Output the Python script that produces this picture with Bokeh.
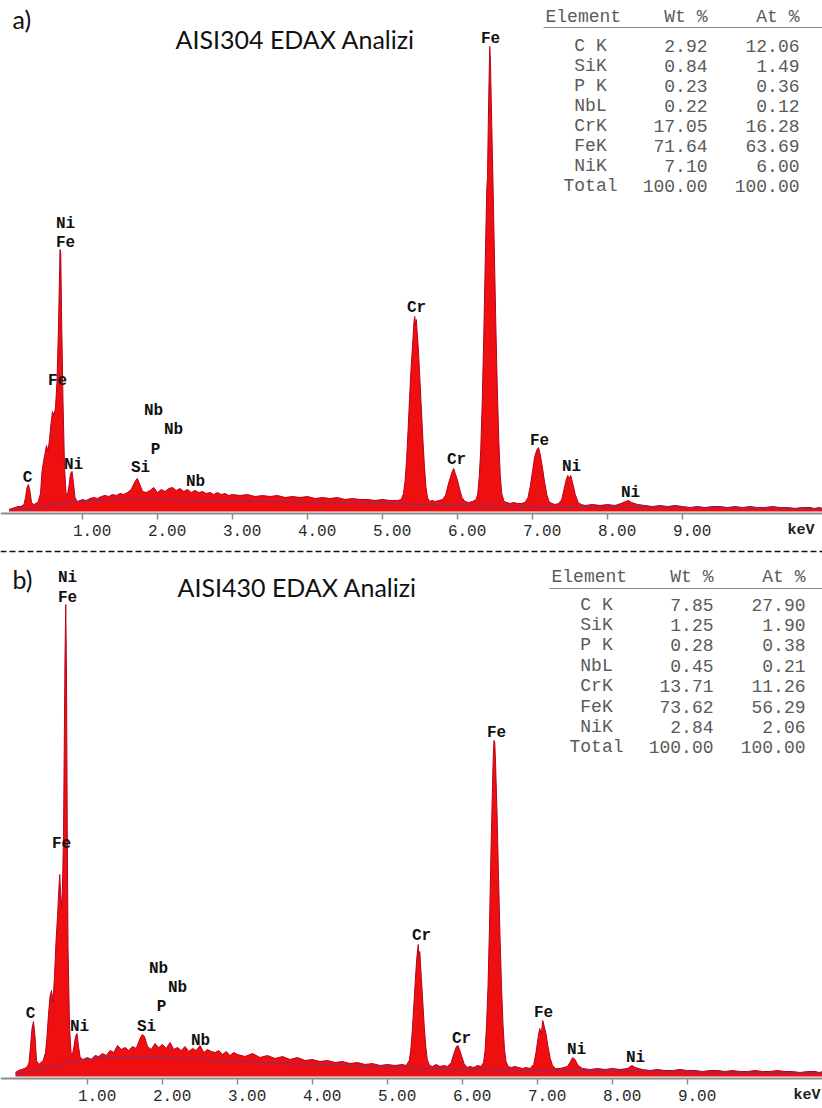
from bokeh.plotting import figure
from bokeh.layouts import column
from bokeh.models import Range1d, FixedTicker, Span
from bokeh.core.properties import value
from bokeh.embed import file_html
from bokeh.resources import INLINE

# ---------------- data ----------------
TICK_KEV = [1, 2, 3, 4, 5, 6, 7, 8, 9]
TICK_LABELS = ["1.00", "2.00", "3.00", "4.00", "5.00", "6.00", "7.00", "8.00", "9.00"]
UNIT_LABEL = "keV"

TABLE_HEADER = ["Element", "Wt %", "At %"]
TABLE_ELEMENTS = ["C K", "SiK", "P K", "NbL", "CrK", "FeK", "NiK", "Total"]
A_WT = [2.92, 0.84, 0.23, 0.22, 17.05, 71.64, 7.10, 100.00]
A_AT = [12.06, 1.49, 0.36, 0.12, 16.28, 63.69, 6.00, 100.00]
B_WT = [7.85, 1.25, 0.28, 0.45, 13.71, 73.62, 2.84, 100.00]
B_AT = [27.90, 1.90, 0.38, 0.21, 11.26, 56.29, 2.06, 100.00]

A_TAG, B_TAG = "a)", "b)"
A_TITLE, B_TITLE = "AISI304 EDAX Analizi", "AISI430 EDAX Analizi"

PEAK_NAMES = ["Ni", "Fe", "Fe", "C", "Ni", "Si", "Nb", "Nb", "P", "Nb",
              "Cr", "Cr", "Fe", "Fe", "Ni", "Ni"]

# spectrum a) (keV, counts)
A_KEV = [0.02, 0.06, 0.10, 0.14, 0.18, 0.22, 0.24, 0.26, 0.28, 0.30,
         0.32, 0.35, 0.38, 0.41, 0.44, 0.46, 0.48, 0.50, 0.52, 0.54,
         0.56, 0.58, 0.60, 0.62, 0.64, 0.66, 0.68, 0.70, 0.71, 0.72,
         0.74, 0.76, 0.78, 0.80, 0.82, 0.84, 0.86, 0.88, 0.90, 0.93, 0.97,
         1.00, 1.05, 1.10, 1.15, 1.20, 1.25, 1.30, 1.35, 1.40, 1.45, 1.50, 1.55, 1.60, 1.65,
         1.70, 1.73, 1.76,
         1.80, 1.85, 1.90, 1.95, 2.00, 2.05, 2.10, 2.15, 2.20, 2.25, 2.30, 2.35,
         2.40, 2.45, 2.50, 2.55, 2.60, 2.65, 2.70, 2.75, 2.80, 2.85, 2.90, 2.95,
         3.00, 3.10, 3.20, 3.30, 3.40, 3.50, 3.60, 3.70, 3.80, 3.90, 4.00, 4.10,
         4.20, 4.30, 4.40, 4.50, 4.60, 4.70, 4.80, 4.90, 5.00, 5.10, 5.20, 5.25,
         5.28, 5.30, 5.32, 5.34, 5.36, 5.38, 5.40, 5.42, 5.43, 5.44,
         5.45, 5.46, 5.48, 5.50, 5.52, 5.54, 5.56, 5.58, 5.60, 5.63,
         5.66, 5.70, 5.75, 5.80, 5.84, 5.87, 5.90, 5.93, 5.95, 5.97,
         6.00, 6.03, 6.06, 6.10, 6.15, 6.20, 6.25, 6.27, 6.29, 6.31,
         6.33, 6.35, 6.37, 6.39, 6.40, 6.41, 6.42, 6.43, 6.44, 6.45,
         6.47, 6.49, 6.51, 6.53, 6.55, 6.57, 6.59, 6.62, 6.66, 6.70,
         6.75, 6.80, 6.85, 6.90, 6.94, 6.97, 7.00, 7.03, 7.06, 7.08,
         7.10, 7.13, 7.16, 7.19, 7.22, 7.26, 7.30, 7.35, 7.39, 7.42,
         7.45, 7.47, 7.49, 7.51, 7.54, 7.57, 7.61, 7.65, 7.70, 7.80,
         7.90, 8.00, 8.10, 8.18, 8.24, 8.28, 8.32, 8.40, 8.50, 8.60,
         8.70, 8.80, 8.90, 9.00, 9.10, 9.20, 9.30, 9.40, 9.50, 9.60,
         9.70, 9.80, 9.90, 10.00, 10.10, 10.20, 10.30, 10.40, 10.50, 10.60,
         10.70, 10.76, 10.82, 10.87]
A_COUNTS = [2, 3, 4, 5, 5, 7, 14, 24, 27, 20,
            9, 7, 8, 10, 18, 40, 50, 58, 66, 60,
            72, 88, 100, 96, 104, 130, 185, 262, 258, 200,
            110, 45, 18, 17, 26, 38, 40, 28, 14, 10, 11,
            12, 11, 13, 14, 13, 15, 16, 15, 17, 16, 18, 17, 19, 22,
            30, 33, 28,
            20, 19, 21, 24, 19, 22, 20, 23, 24, 21, 23, 20,
            22, 19, 21, 19, 20, 18, 19, 17, 19, 17, 18, 16,
            17, 16, 17, 15, 16, 15, 16, 14, 15, 14, 15, 13,
            14, 13, 14, 12, 13, 12, 12, 11, 12, 11, 11, 12,
            18, 30, 50, 80, 112, 142, 165, 190, 195, 186,
            192, 182, 160, 130, 100, 70, 44, 24, 14, 10,
            11, 10, 11, 12, 16, 25, 33, 40, 43, 38,
            31, 22, 14, 10, 9, 10, 12, 18, 35, 62,
            110, 175, 250, 322, 335, 385, 430, 465, 448, 410,
            340, 265, 190, 125, 72, 36, 18, 10, 9, 8,
            9, 8, 8, 9, 14, 25, 40, 55, 62, 64,
            58, 45, 30, 17, 10, 8, 7, 8, 12, 22,
            32, 36, 33, 36, 27, 17, 9, 7, 6, 7,
            6, 7, 6, 8, 10, 11, 9, 7, 6, 5,
            6, 5, 6, 5, 4, 5, 4, 5, 5, 4,
            5, 4, 5, 4, 4, 5, 4, 4, 3, 4,
            4, 3, 4, 3]
A_BG_KEV = [0.02, 0.3, 0.6, 0.9, 1.2, 1.6, 2.0, 2.5, 3.0, 4.0, 5.0, 6.0, 7.0, 8.0, 9.0, 10.0, 10.87]
A_BG_COUNTS = [1, 3, 7, 10, 11, 12, 12, 11, 11, 9, 8, 6, 5, 4.5, 4, 3.5, 3]

# spectrum b) (keV, counts)
B_KEV = [0.04, 0.08, 0.12, 0.16, 0.20, 0.22, 0.24, 0.26, 0.28, 0.30,
         0.32, 0.35, 0.38, 0.41, 0.44, 0.46, 0.48, 0.50, 0.52, 0.54,
         0.56, 0.58, 0.60, 0.62, 0.63, 0.64, 0.66, 0.68, 0.70, 0.71,
         0.72, 0.73, 0.74, 0.76, 0.78, 0.80, 0.82, 0.84, 0.86, 0.88,
         0.90, 0.93, 0.97,
         1.00, 1.05, 1.10, 1.15, 1.20, 1.25, 1.30, 1.35, 1.40, 1.45, 1.50, 1.55, 1.60, 1.65,
         1.70, 1.73, 1.76,
         1.80, 1.85, 1.90, 1.95, 2.00, 2.05, 2.10, 2.15, 2.20, 2.25, 2.30, 2.35,
         2.40, 2.45, 2.50, 2.55, 2.60, 2.65, 2.70, 2.75, 2.80, 2.85, 2.90, 2.95,
         3.00, 3.10, 3.20, 3.30, 3.40, 3.50, 3.60, 3.70, 3.80, 3.90, 4.00, 4.10,
         4.20, 4.30, 4.40, 4.50, 4.60, 4.70, 4.80, 4.90, 5.00, 5.10, 5.20, 5.25,
         5.29, 5.31, 5.33, 5.35, 5.37, 5.39, 5.41, 5.42, 5.43, 5.45,
         5.47, 5.49, 5.51, 5.53, 5.56, 5.60, 5.65, 5.70, 5.75, 5.80,
         5.85, 5.89, 5.92, 5.94, 5.96, 5.99, 6.02, 6.06, 6.10, 6.15,
         6.20, 6.25, 6.28, 6.30, 6.32, 6.34, 6.36, 6.38, 6.40, 6.41,
         6.42, 6.43, 6.44, 6.46, 6.48, 6.50, 6.52, 6.54, 6.56, 6.58,
         6.61, 6.65, 6.70, 6.75, 6.80, 6.85, 6.90, 6.95, 6.98, 7.01,
         7.03, 7.05, 7.07, 7.09, 7.11, 7.14, 7.17, 7.20, 7.24, 7.30,
         7.35, 7.40, 7.44, 7.47, 7.50, 7.54, 7.60, 7.70, 7.80, 7.90,
         8.00, 8.10, 8.20, 8.26, 8.30, 8.40, 8.50, 8.60, 8.70, 8.80,
         8.90, 9.00, 9.10, 9.20, 9.30, 9.40, 9.50, 9.60, 9.70, 9.80,
         9.90, 10.00, 10.10, 10.20, 10.30, 10.40, 10.50, 10.60, 10.70,
         10.76, 10.80]
B_COUNTS = [4, 6, 7, 8, 10, 14, 30, 48, 55, 40,
            16, 12, 14, 16, 24, 40, 62, 80, 86, 75,
            100, 135, 160, 190, 202, 185, 168, 240, 420, 472,
            400, 250, 130, 50, 24, 22, 30, 40, 43, 30,
            20, 17, 18,
            19, 17, 21, 20, 23, 21, 26, 24, 31, 27, 29, 26, 30, 28,
            38, 42, 40,
            30, 27, 33, 29, 32, 28, 34, 27, 29, 26, 30, 25,
            28, 26, 31, 24, 27, 25, 24, 26, 22, 25, 21, 24,
            22, 20, 23, 19, 21, 18, 20, 17, 19, 16, 17, 15,
            16, 14, 15, 13, 14, 12, 13, 11, 12, 11, 12, 11,
            16, 26, 45, 70, 95, 118, 132, 118, 125, 100,
            75, 50, 30, 17, 11, 10, 12, 10, 11, 10,
            14, 24, 30, 31, 27, 20, 13, 9, 10, 9,
            11, 10, 14, 25, 50, 90, 150, 225, 290, 320,
            336, 334, 315, 265, 200, 140, 90, 52, 27, 15,
            10, 9, 10, 9, 8, 9, 8, 12, 24, 40,
            48, 42, 56, 50, 44, 30, 18, 11, 8, 8,
            9, 10, 15, 19, 17, 11, 8, 7, 8, 7,
            8, 7, 8, 11, 9, 7, 6, 7, 6, 6,
            7, 6, 6, 5, 6, 6, 5, 6, 5, 5,
            6, 5, 5, 6, 5, 5, 4, 5, 5,
            4, 5]
B_BG_KEV = [0.04, 0.3, 0.6, 0.9, 1.2, 1.6, 2.0, 2.5, 3.0, 4.0, 5.0, 6.0, 7.0, 8.0, 9.0, 10.0, 10.8]
B_BG_COUNTS = [2, 6, 11, 16, 19, 20, 19, 17, 15, 12, 9, 7, 6, 5, 4.5, 4, 4]

assert len(A_KEV) == len(A_COUNTS) and len(B_KEV) == len(B_COUNTS)

# ---------------- layout (page pixels) ----------------
PX_PER_KEV = 75.0
MONO = "Liberation Mono"
SANS = "Lato"

PANEL_A = dict(kev=A_KEV, counts=A_COUNTS, bg_kev=A_BG_KEV, bg_counts=A_BG_COUNTS,
               wt=A_WT, at=A_AT, tag=A_TAG, title=A_TITLE,
               x0=7, top=0, height=545, axis_py=513,
               tag_pos=(12, 18), title_pos=(175, 38),
               head_y=16, line_y=27, row_y0=45, row_dy=20.1,
               el_left=545, name_c=590, wt_r=707, at_r=799, line_x0=543,
               peaks=[(65, 223), (65, 242), (57, 380), (27, 477), (73, 464), (140, 467),
                      (153, 410), (173, 429), (155, 449), (195, 481), (416, 307), (456, 459),
                      (490, 38), (539, 440), (571, 466), (630, 492)],
               unit_pos=(814, 530), sep_y=None)
PANEL_B = dict(kev=B_KEV, counts=B_COUNTS, bg_kev=B_BG_KEV, bg_counts=B_BG_COUNTS,
               wt=B_WT, at=B_AT, tag=B_TAG, title=B_TITLE,
               x0=12, top=545, height=561, axis_py=1078,
               tag_pos=(12, 578), title_pos=(177, 586),
               head_y=576, line_y=588, row_y0=604, row_dy=20.4,
               el_left=551, name_c=596, wt_r=713, at_r=805, line_x0=549,
               peaks=[(67, 577), (67, 597), (61, 843), (30, 1013), (79, 1026), (146, 1026),
                      (158, 968), (177, 987), (161, 1006), (200, 1040), (421, 935), (461, 1038),
                      (496, 732), (543, 1012), (576, 1049), (635, 1057)],
               unit_pos=(820, 1095), sep_y=551)


def make_panel(c):
    fx = lambda px: (px - c["x0"]) / PX_PER_KEV
    fy = lambda py: c["axis_py"] - 2 - py

    p = figure(width=822, height=c["height"],
               x_range=Range1d(fx(0), fx(822)),
               y_range=Range1d(fy(c["top"] + c["height"]), fy(c["top"])),
               output_backend="svg", toolbar_location=None, y_axis_location=None,
               min_border=0)
    p.grid.visible = False
    p.outline_line_color = None
    p.background_fill_color = "white"
    p.border_fill_color = "white"

    ax = p.xaxis[0]
    ax.fixed_location = fy(c["axis_py"])
    ax.ticker = FixedTicker(ticks=TICK_KEV)
    ax.major_label_overrides = {t: "\u00a0\u00a0" + s for t, s in zip(TICK_KEV, TICK_LABELS)}
    ax.minor_tick_line_color = None
    ax.major_tick_in = 0
    ax.major_tick_out = 6
    ax.major_label_standoff = 3
    ax.axis_line_color = "#8c8c8c"
    ax.axis_line_width = 2
    ax.major_tick_line_color = "#8c8c8c"
    ax.major_tick_line_width = 1.5
    ax.major_label_text_font = MONO
    ax.major_label_text_font_size = "16px"
    ax.major_label_text_color = "#2a2a2a"

    # spectrum
    p.varea(x=c["kev"], y1=0, y2=c["counts"], fill_color="#ee1010")
    p.line(c["kev"], c["counts"], line_color="#b8001c", line_width=1)
    p.line(c["bg_kev"], c["bg_counts"], line_color="#5a3a9a", line_width=1, line_alpha=0.8)

    # peak labels
    p.text(x=[fx(a) for a, b in c["peaks"]], y=[fy(b) for a, b in c["peaks"]], text=PEAK_NAMES,
           text_font=value(MONO), text_font_style="bold", text_font_size="16px",
           text_align="center", text_baseline="middle", text_color="#111111")

    # tag and title
    p.text(x=[fx(c["tag_pos"][0])], y=[fy(c["tag_pos"][1])], text=[c["tag"]],
           text_font=value(SANS), text_font_size="25px", text_align="left",
           text_baseline="middle", text_color="#111111")
    p.text(x=[fx(c["title_pos"][0])], y=[fy(c["title_pos"][1])], text=[c["title"]],
           text_font=value(SANS), text_font_size="25px", text_align="left",
           text_baseline="middle", text_color="#111111")

    # quantification table
    common = dict(text_font=value(MONO), text_font_size="18px", text_baseline="middle",
                  text_color="#5a5a5a")
    p.text(x=[fx(c["el_left"])], y=[fy(c["head_y"])], text=[TABLE_HEADER[0]],
           text_align="left", **common)
    p.text(x=[fx(c["wt_r"]), fx(c["at_r"])], y=[fy(c["head_y"])] * 2,
           text=TABLE_HEADER[1:], text_align="right", **common)
    p.segment(x0=[fx(c["line_x0"])], y0=[fy(c["line_y"])], x1=[fx(822)], y1=[fy(c["line_y"])],
              line_color="#8a8a8a", line_width=1.2)
    rows_y = [fy(c["row_y0"] + i * c["row_dy"]) for i in range(len(TABLE_ELEMENTS))]
    p.text(x=[fx(c["name_c"])] * len(TABLE_ELEMENTS), y=rows_y, text=TABLE_ELEMENTS,
           text_align="center", **common)
    p.text(x=[fx(c["wt_r"])] * len(c["wt"]), y=rows_y, text=[f"{v:.2f}" for v in c["wt"]],
           text_align="right", **common)
    p.text(x=[fx(c["at_r"])] * len(c["at"]), y=rows_y, text=[f"{v:.2f}" for v in c["at"]],
           text_align="right", **common)

    # unit label at right end of axis
    p.text(x=[fx(c["unit_pos"][0])], y=[fy(c["unit_pos"][1])], text=[UNIT_LABEL],
           text_font=value(MONO), text_font_style="bold", text_font_size="15px",
           text_align="right", text_baseline="middle", text_color="#222222")

    if c["sep_y"] is not None:
        p.add_layout(Span(location=fy(c["sep_y"]), dimension="width", line_color="#111111",
                          line_width=1.5, line_dash="6 3"))
    return p


pa = make_panel(PANEL_A)
pb = make_panel(PANEL_B)
layout = column(pa, pb, spacing=0)
open("out.html", "w").write(file_html(layout, INLINE, title="EDAX"))
